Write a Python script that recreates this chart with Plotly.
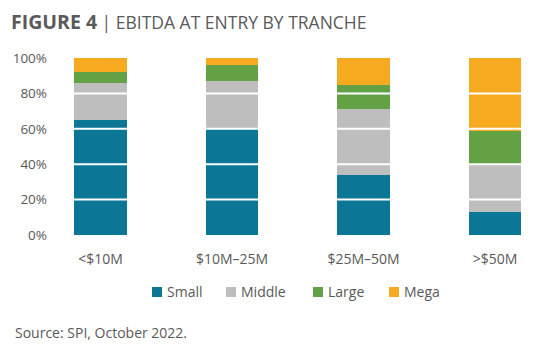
import plotly.graph_objects as go

categories = ["<$10M", "$10M–25M", "$25M–50M", ">$50M"]
small = [65, 60, 34, 13]
middle = [21, 27, 37, 27]
large = [6, 9, 14, 19]
mega = [8, 4, 15, 41]
y_ticks = [0, 20, 40, 60, 80, 100]
y_tick_labels = ["0%", "20%", "40%", "60%", "80%", "100%"]

series = [
    ("Small", small, "#0C7696"),
    ("Middle", middle, "#BDBEBD"),
    ("Large", large, "#63A244"),
    ("Mega", mega, "#F5AA1F"),
]

FONT = "Open Sans"
GRAY = "#595959"

# plot area geometry in pixels
L, T, W_PLOT, H_PLOT = 55, 58, 480, 177


def px(xp):
    return (xp - L) / W_PLOT


def py(yp):
    return (T + H_PLOT - yp) / H_PLOT


fig = go.Figure()
xs = list(range(len(categories)))
for name, vals, col in series:
    fig.add_trace(go.Bar(
        x=xs, y=vals, name=name, width=0.4,
        marker=dict(color=col, line=dict(width=0)),
        showlegend=False,
    ))

for v in y_ticks[1:-1]:
    fig.add_shape(type="line", xref="paper", yref="y", x0=0, x1=1, y0=v, y1=v,
                  line=dict(color="white", width=2), layer="above")

fig.update_layout(
    barmode="stack",
    width=542, height=347,
    margin=dict(l=L, r=542 - L - W_PLOT, t=T, b=347 - T - H_PLOT),
    paper_bgcolor="white", plot_bgcolor="white",
    font=dict(family=FONT, size=14, color=GRAY),
    showlegend=False,
    xaxis=dict(tickmode="array", tickvals=xs, ticktext=categories,
               range=[-0.346, 3.304], showgrid=False, zeroline=False,
               showline=False, ticks="", ticklabelstandoff=14,
               tickfont=dict(size=14, color=GRAY)),
    yaxis=dict(range=[0, 100], tickvals=y_ticks, ticktext=y_tick_labels,
               showgrid=False, zeroline=False, showline=False, ticks="",
               ticklabelstandoff=7, tickfont=dict(size=13.5, color=GRAY)),
)

# custom legend (swatch + label)
legend_x = [152, 226, 313, 389]
for (name, vals, col), lx in zip(series, legend_x):
    fig.add_shape(type="rect", xref="paper", yref="paper",
                  x0=px(lx), x1=px(lx + 10), y0=py(287), y1=py(297),
                  fillcolor=col, line=dict(width=0), layer="above")
    fig.add_annotation(xref="paper", yref="paper", x=px(lx + 13), y=py(291.5),
                       xanchor="left", yanchor="middle", showarrow=False,
                       text=name, font=dict(size=14, color=GRAY, family=FONT))

fig.add_annotation(
    xref="paper", yref="paper", x=px(9), y=py(21.5),
    xanchor="left", yanchor="middle", showarrow=False,
    text="<b><span style='font-size:19.5px'>FIGURE 4</span></b> | EBITDA AT ENTRY BY TRANCHE",
    font=dict(size=17.5, color="#5a5a5a", family=FONT),
)
fig.add_annotation(
    xref="paper", yref="paper", x=px(13), y=py(332),
    xanchor="left", yanchor="middle", showarrow=False,
    text="Source: SPI, October 2022.",
    font=dict(size=14, color=GRAY, family=FONT),
)

fig.write_html("out.html")
